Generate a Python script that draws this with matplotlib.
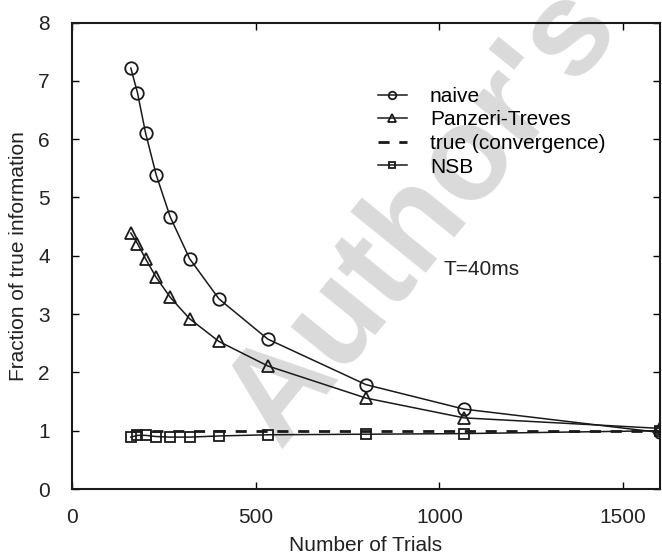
import matplotlib
matplotlib.use("Agg")
import matplotlib.pyplot as plt

plt.rcParams['font.family'] = ['Liberation Sans', 'DejaVu Sans']

# number of trials
trials = [160, 178, 200, 229, 267, 320, 400, 533, 800, 1067, 1600]

naive = [7.22, 6.80, 6.11, 5.39, 4.67, 3.95, 3.26, 2.57, 1.79, 1.37, 0.97]
panzeri_treves = [4.39, 4.21, 3.95, 3.63, 3.29, 2.92, 2.53, 2.11, 1.56, 1.22, 1.04]
nsb = [0.89, 0.92, 0.92, 0.90, 0.89, 0.89, 0.91, 0.93, 0.94, 0.95, 1.00]
true_x = [160, 1600]
true_y = [1.0, 1.0]

fig = plt.figure(figsize=(6.62, 5.59), dpi=100)
ax = fig.add_axes([0.1088, 0.1252, 0.888, 0.8345])

# watermark (behind the curves)
ax.text(0.64, 0.612, "Author's", fontsize=96, fontweight='bold', color='#dadada',
        rotation=51, ha='center', va='center', rotation_mode='anchor',
        transform=fig.transFigure, zorder=1, clip_on=False)

lc = '#1a1a1a'
ax.plot(trials, naive, color=lc, lw=1.1, marker='o', ms=9, mfc='none', mec=lc, mew=1.3,
        label='naive', zorder=3)
ax.plot(trials, panzeri_treves, color=lc, lw=1.1, marker='^', ms=9, mfc='none', mec=lc,
        mew=1.3, label='Panzeri-Treves', zorder=3)
ax.plot(true_x, true_y, color=lc, lw=2.0, ls=(0, (4, 3.5)), label='true (convergence)',
        zorder=3)
ax.plot(trials, nsb, color=lc, lw=1.1, marker='s', ms=7.5, mfc='none', mec=lc, mew=1.3,
        label='NSB', zorder=3)

ax.text(1010, 3.76, 'T=40ms', fontsize=15, color='#222222', ha='left', va='center')

ax.set_xlim(0, 1600)
ax.set_ylim(0, 8)
ax.set_xticks([0, 500, 1000, 1500])
ax.set_yticks(range(0, 9))
ax.tick_params(direction='in', length=5, width=1, top=True, right=True,
               labelsize=15, labelcolor='#222222')
ax.tick_params(axis='x', pad=14)
ax.tick_params(axis='y', pad=16)
for s in ax.spines.values():
    s.set_linewidth(1.5)
    s.set_color(lc)
    s.set_zorder(4)

ax.set_xlabel('Number of Trials', fontsize=15, color='#222222', labelpad=6)
ax.set_ylabel('Fraction of true information', fontsize=15, color='#222222', labelpad=7)

ax.legend(loc='upper left', bbox_to_anchor=(0.52, 0.862), frameon=False, fontsize=15,
          handlelength=1.4, handletextpad=1.1, labelspacing=0.22, borderpad=0,
          borderaxespad=0, markerscale=0.6)

fig.savefig('out.png', dpi=100)
